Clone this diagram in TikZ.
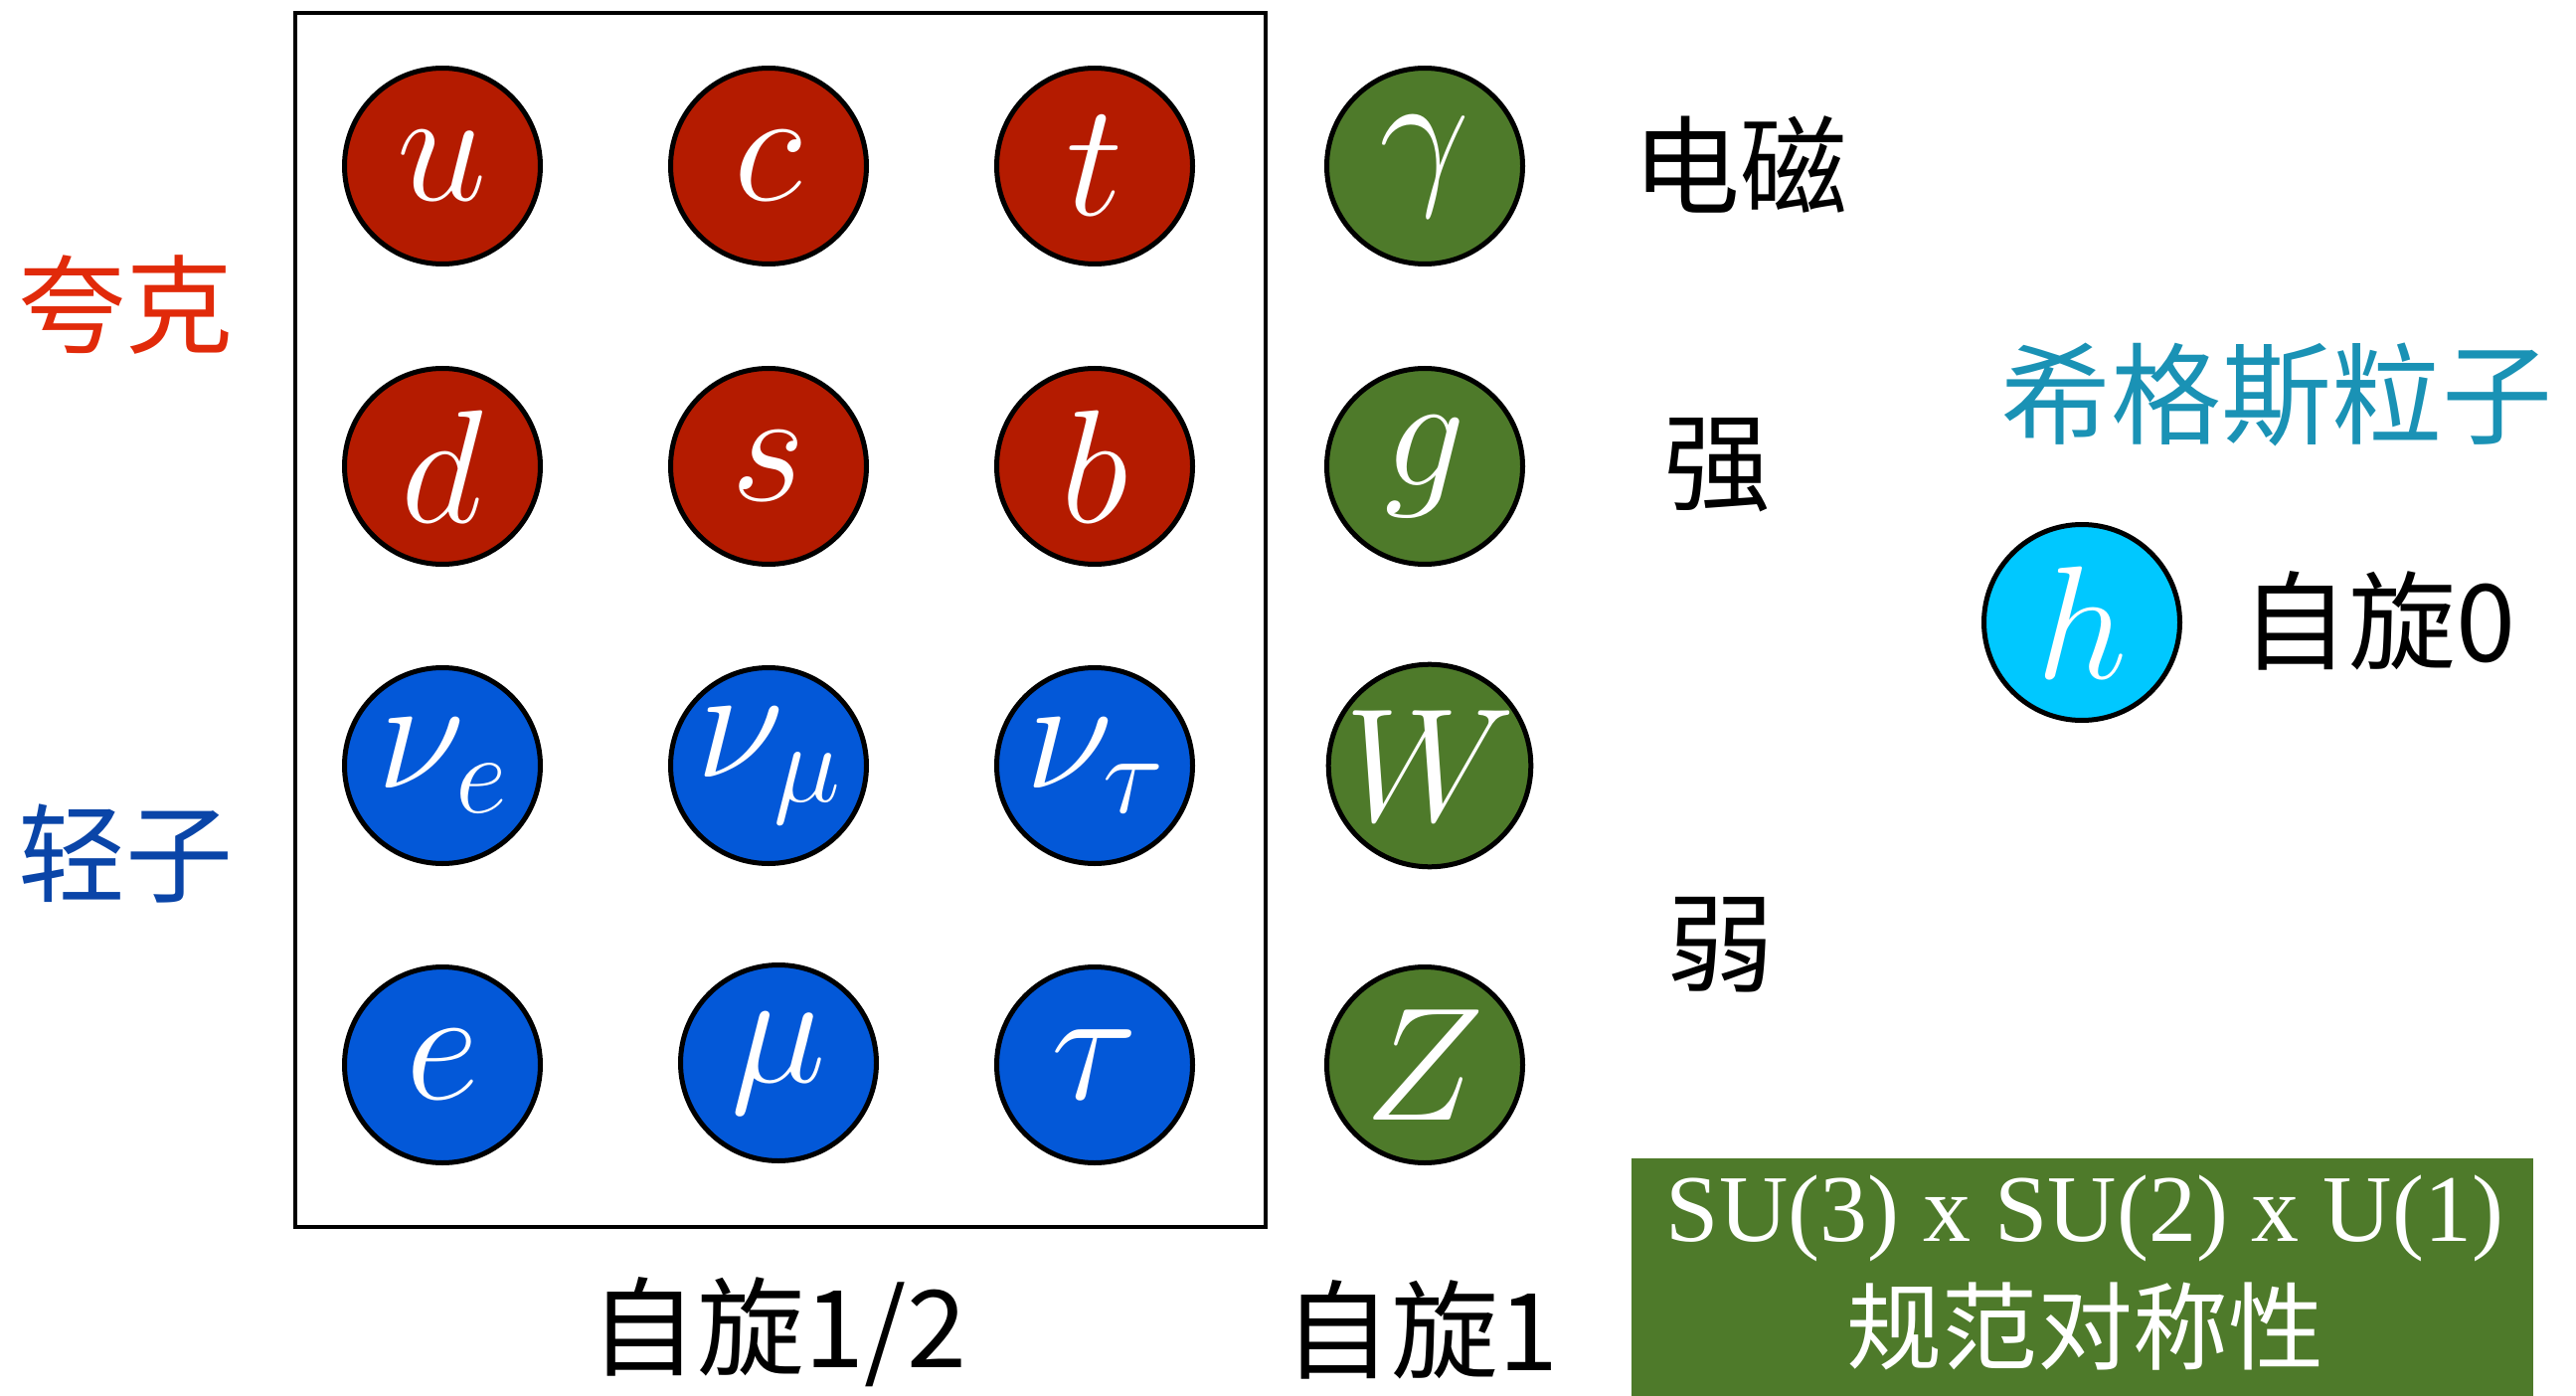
\RequirePackage{fix-cm}
\documentclass[tikz,border=0pt]{standalone}
\usepackage{fontspec}
\newfontfamily\cjk{Noto Sans CJK SC}
\newfontfamily\serifu{Liberation Serif}
\definecolor{qred}{HTML}{B41B00}
\definecolor{lblue}{HTML}{0358D8}
\definecolor{bgreen}{HTML}{4E7A2A}
\definecolor{hcyan}{HTML}{00C8FF}
\definecolor{labred}{HTML}{E12A0A}
\definecolor{labblue}{HTML}{0A45A8}
\definecolor{labteal}{HTML}{1A92B5}
\tikzset{
  particle/.style={circle, draw=black, line width=5pt, minimum size=197pt, inner sep=0pt, text=white, font=\fontsize{162}{162}\selectfont},
  quark/.style={particle, fill=qred},
  lepton/.style={particle, fill=lblue},
  boson/.style={particle, fill=bgreen},
  higgs/.style={particle, fill=hcyan},
  biglab/.style={font=\cjk\fontsize{108}{108}\selectfont, inner sep=0pt},
}
\begin{document}
\begin{tikzpicture}[x=1pt,y=-1pt]
\useasboundingbox (0,0) rectangle (2591,1404);
% fermion frame
\node[draw=black, line width=4pt, inner sep=0pt, minimum width=976pt, minimum height=1221pt] (frame) at (785,623.5) {};
% quarks
\node[quark] (u) at (445,167) {$u$};
\node[quark] (c) at (773,167) {$c$};
\node[quark] (t) at (1101,167) {$t$};
\node[quark] (d) at (445,469) {$d$};
\node[quark] (s) at (773,469) {$s$};
\node[quark] (b) at (1101,469) {$b$};
% leptons
\node[lepton] (ne) at (445,770) {$\nu_e$};
\node[lepton] (nm) at (773,770) {$\nu_\mu$};
\node[lepton] (nt) at (1101,770) {$\nu_\tau$};
\node[lepton] (e) at (445,1071) {$e$};
\node[lepton] (mu) at (783,1069) {$\mu$};
\node[lepton] (tau) at (1101,1071) {$\tau$};
% gauge bosons
\node[boson] (gam) at (1433,167) {$\gamma$};
\node[boson] (g) at (1433,469) {$g$};
\node[boson] (W) at (1438,770) {$W$};
\node[boson] (Z) at (1433,1071) {$Z$};
% higgs
\node[higgs] (h) at (2094,626) {$h$};
% labels
\node[biglab, text=labred] (quarklab) at (126,307) {夸克};
\node[biglab, text=labblue] (leptonlab) at (127,858) {轻子};
\node[biglab] (em) at (1750,165) {电磁};
\node[biglab] (strong) at (1727,468) {强};
\node[biglab] (weak) at (1730,950) {弱};
\node[biglab, text=labteal, font=\cjk\fontsize{111}{111}\selectfont] (higgslab) at (2290,397) {希格斯粒子};
\node[biglab] (spin0) at (2392,624) {自旋0};
\node[biglab] (spinhalf) at (783,1340) {自旋1/2};
\node[biglab] (spin1) at (1429,1337) {自旋1};
% symmetry box
\fill[bgreen] (1641,1165) rectangle (2548,1404);
\node[text=white, inner sep=0pt, font=\serifu\fontsize{96}{96}\selectfont] (sym) at (2097,1225) {SU(3) x SU(2) x U(1)};
\node[text=white, inner sep=0pt, font=\cjk\fontsize{96}{96}\selectfont] (gauge) at (2097,1334) {规范对称性};
\end{tikzpicture}
\end{document}
